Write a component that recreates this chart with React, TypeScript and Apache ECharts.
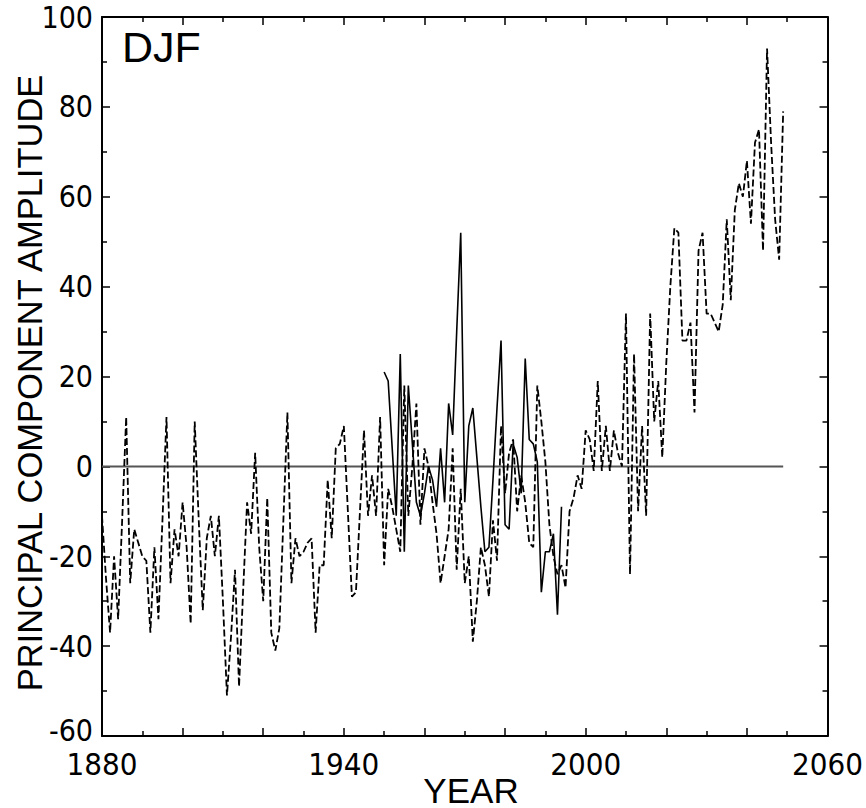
import React, { useEffect, useRef } from "react";
import * as echarts from "echarts";

// ---- Data ----
const dashedStartYear = 1880;
// Model principal component amplitude, annual DJF, 1880-2049 (dashed)
const dashedValues: number[] = [
  -11, -25, -37, -20, -34, -12, 11, -26, -14, -17, // 1880-1889
  -20, -21, -37, -18, -34, -12, 11, -26, -14, -20, // 1890-1899
  -8, -18, -35, 10, -12, -32, -16, -11, -20, -11, // 1900-1909
  -30, -51, -38, -23, -49, -28, -8, -15, 3, -18, // 1910-1919
  -30, -7, -37, -41, -36, -12, 12, -26, -16, -20, // 1920-1929
  -19, -17, -16, -37, -22, -22, -3, -16, 4, 5, // 1930-1939
  9, -10, -29, -28, -10, 8, -11, -2, -11, 11, // 1940-1949
  -22, -5, -9, -14, -19, 18, -11, 0, 14, -13, // 1950-1959
  4, 0, -8, -15, -26, -20, -14, 4, -23, -5, // 1960-1969
  -26, -20, -39, -30, -18, -22, -29, -12, -21, 9, // 1970-1979
  -6, 3, 6, -10, -2, -8, -17, -18, 18, 10, // 1980-1989
  1, -13, -20, -24, -22, -27, -10, -7, -2, -5, // 1990-1999
  8, 6, -1, 19, -1, 9, -1, 8, 3, 0, // 2000-2009
  34, -24, 25, -10, 9, -11, 34, 10, 19, 2, // 2010-2019
  23, 40, 53, 52, 28, 28, 32, 12, 48, 52, // 2020-2029
  34, 34, 32, 30, 36, 55, 37, 57, 63, 60, // 2030-2039
  68, 54, 72, 75, 48, 93, 72, 55, 46, 79, // 2040-2049
];

const solidStartYear = 1950;
// Observed principal component amplitude, 1950-1994 (solid)
const solidValues: number[] = [
  21, 19, 4, -11, 25, -19, 18, 5, -8, -11, // 1950-1959
  -6, 0, -3, -9, 4, -8, 14, 7, 30, 52, // 1960-1969
  -8, 9, 13, 2, -9, -19, -18, -3, 13, 28, // 1970-1979
  -13, -14, 5, 2, -6, 24, 6, 5, 1, -28, // 1980-1989
  -19, -19, -15, -33, -9, // 1990-1994
];

// Reference zero line spanning the model period
const zeroLineYears: number[] = [1880, 2049];

const xTickLabels: number[] = [1880, 1940, 2000, 2060];
const yRange = { min: -60, max: 100, step: 20 };
const xRange = { min: 1880, max: 2060, step: 20 };

const panelLabel = "DJF";
const xTitle = "YEAR";
const yTitle = "PRINCIPAL COMPONENT AMPLITUDE";

const NARROW = "'Liberation Sans Narrow', 'Arial Narrow', 'DejaVu Sans Condensed', sans-serif";
const REGULAR = "'Liberation Sans', Arial, Helvetica, sans-serif";

export default function App() {
  const ref = useRef<HTMLDivElement>(null);

  useEffect(() => {
    if (!ref.current) return;
    const chart = echarts.init(ref.current, undefined, { renderer: "svg" });

    const dashedData = dashedValues.map((v, i) => [dashedStartYear + i, v]);
    const solidData = solidValues.map((v, i) => [solidStartYear + i, v]);
    const zeroData = zeroLineYears.map((y) => [y, 0]);

    const axisLine = { show: true, onZero: false, lineStyle: { color: "#000", width: 2 } };
    const tick = { show: true, inside: true, length: 8, lineStyle: { color: "#000", width: 1.5 } };
    const minor = { show: true, splitNumber: 2, length: 5, lineStyle: { color: "#000", width: 1.5 } };

    const xBase = {
      type: "value" as const,
      min: xRange.min,
      max: xRange.max,
      interval: xRange.step,
      axisLine,
      axisTick: tick,
      minorTick: minor,
      splitLine: { show: false },
    };
    const yBase = {
      type: "value" as const,
      min: yRange.min,
      max: yRange.max,
      interval: yRange.step,
      axisLine,
      axisTick: tick,
      minorTick: minor,
      splitLine: { show: false },
    };

    chart.setOption({
      animation: false,
      backgroundColor: "#fff",
      grid: { left: 102, top: 17, width: 726, height: 719, containLabel: false },
      xAxis: [
        {
          ...xBase,
          position: "bottom",
          axisLabel: {
            show: true,
            color: "#000",
            fontSize: 31,
            fontFamily: NARROW,
            margin: 12,
            formatter: (v: number) => (xTickLabels.includes(v) ? String(v) : ""),
          },
        },
        { ...xBase, position: "top", axisLabel: { show: false } },
      ],
      yAxis: [
        {
          ...yBase,
          position: "left",
          axisLabel: {
            show: true,
            color: "#000",
            fontSize: 30,
            fontFamily: NARROW,
            margin: 9,
            formatter: (v: number) => (v === yRange.min ? `{low|${v}}` : String(v)),
            rich: { low: { fontSize: 30, fontFamily: NARROW, color: "#000", padding: [0, 0, 12, 0] } },
          },
        },
        { ...yBase, position: "right", axisLabel: { show: false } },
      ],
      graphic: [
        {
          type: "text",
          x: 122,
          y: 47,
          style: { text: panelLabel, font: `43px ${REGULAR}`, fill: "#000", textAlign: "left", textVerticalAlign: "middle" },
        },
        {
          type: "text",
          x: 471,
          y: 790,
          style: { text: xTitle, font: `35px ${REGULAR}`, fill: "#000", textAlign: "center", textVerticalAlign: "middle" },
        },
        {
          type: "text",
          x: 30,
          y: 383,
          rotation: Math.PI / 2,
          style: { text: yTitle, font: `34.5px ${REGULAR}`, fill: "#000", textAlign: "center", textVerticalAlign: "middle" },
        },
      ],
      series: [
        {
          name: "zero",
          type: "line",
          data: zeroData,
          symbol: "none",
          lineStyle: { color: "#555", width: 2 },
          z: 1,
        },
        {
          name: "model",
          type: "line",
          data: dashedData,
          symbol: "none",
          lineStyle: { color: "#000", width: 1.8, type: [7, 3] },
          z: 2,
        },
        {
          name: "observed",
          type: "line",
          data: solidData,
          symbol: "none",
          lineStyle: { color: "#000", width: 1.6 },
          z: 3,
        },
      ],
    });

    return () => chart.dispose();
  }, []);

  return (
    <div
      ref={ref}
      style={{ position: "absolute", left: 0, top: 0, width: 866, height: 808, background: "#fff" }}
    />
  );
}
